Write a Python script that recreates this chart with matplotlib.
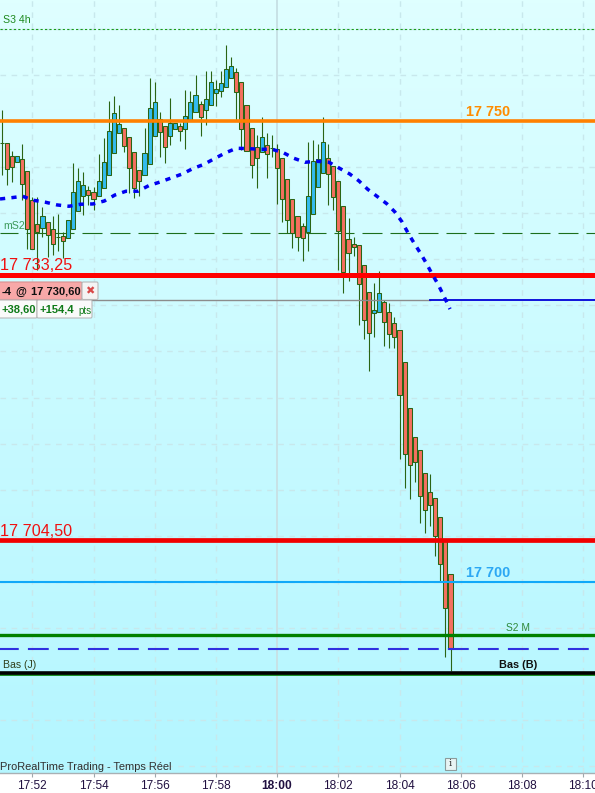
import numpy as np
import matplotlib
matplotlib.use("Agg")
import matplotlib.pyplot as plt
from matplotlib.patches import Rectangle, FancyBboxPatch

plt.rcParams['font.family'] = ['Liberation Sans', 'DejaVu Sans']

W, H = 595, 793
PRICE_BASE = 17700  # values below are points above this base

open_ = [47.65,47.65,46.20,45.55,45.88,44.58,41.43,38.83,38.39,39.05,
         38.29,37.42,37.53,37.31,38.29,40.24,41.87,42.52,42.30,41.87,
         42.73,44.14,46.53,48.70,49.24,48.26,46.64,44.69,44.14,45.34,
         48.37,50.22,49.46,48.37,49.13,49.46,49.13,50.11,50.98,51.84,
         51.19,51.74,53.04,53.25,53.69,54.66,55.31,54.23,51.74,49.24,
         47.18,46.64,47.40,47.07,46.96,45.99,43.71,41.54,39.70,38.61,
         37.96,39.91,42.84,44.36,45.99,45.12,43.49,40.78,37.20,36.66,
         36.55,34.38,31.45,29.18,29.28,30.37,29.28,28.09,27.33,23.86,
         18.87,15.73,14.32,11.82,9.76,9.11,7.05,4.45,0.87]
close = [47.65,44.79,45.01,46.20,43.17,38.29,36.12,37.96,39.70,37.64,
         36.66,37.42,36.98,39.26,42.30,43.49,43.06,41.97,41.54,43.49,
         45.55,48.92,50.87,49.67,47.29,44.90,42.73,43.49,46.53,51.41,
         52.06,48.81,47.18,49.78,49.78,48.92,50.54,52.06,52.82,50.43,
         52.39,54.23,53.47,54.12,55.64,55.97,53.15,49.13,46.75,45.23,
         45.99,48.26,46.42,47.07,44.90,41.54,39.26,37.85,37.42,37.31,
         41.87,45.66,45.88,47.72,44.25,41.76,38.07,33.62,35.68,36.33,
         32.32,28.42,27.01,29.50,31.34,28.20,26.90,26.57,20.28,13.88,
         12.69,13.02,9.33,7.81,8.35,4.99,1.95,-2.82,-7.27]
high = [51.19,47.65,46.75,46.20,47.51,44.58,41.76,41.76,40.67,39.05,
        39.70,39.91,37.96,39.26,45.44,44.90,44.47,42.95,42.84,46.42,
        48.16,52.17,52.71,51.74,49.24,48.26,46.64,44.69,49.24,54.66,
        54.23,50.98,49.46,52.49,49.78,49.78,53.36,53.25,54.99,52.17,
        55.42,55.42,54.45,55.42,58.24,56.94,55.75,54.23,51.74,49.24,
        48.48,50.43,48.70,48.48,47.51,45.99,43.71,41.54,39.70,38.94,
        47.72,47.94,47.51,50.43,47.51,45.12,43.49,40.78,39.48,37.42,
        36.55,34.38,31.45,32.43,33.73,30.59,30.26,28.74,27.33,23.86,
        18.87,15.73,14.32,11.82,11.71,9.11,7.05,4.45,0.87]
low = [44.14,43.06,43.38,45.55,41.43,36.12,36.12,33.84,37.42,35.25,
       35.47,35.90,35.14,37.31,38.29,40.24,39.80,40.89,40.35,41.87,
       42.73,44.14,46.53,48.70,46.64,42.19,41.65,41.87,44.14,45.34,
       48.37,46.10,45.44,47.40,49.13,47.83,46.96,50.11,50.98,48.37,
       49.57,51.74,51.63,52.60,53.69,54.66,50.11,46.85,46.75,43.82,
       42.73,46.64,43.82,46.10,41.00,39.05,37.85,36.23,35.90,34.82,
       35.90,39.91,42.84,44.36,40.89,40.35,33.84,31.34,32.65,35.36,
       27.87,26.36,22.89,26.57,29.28,25.60,25.38,25.38,13.34,10.19,
       9.00,10.85,6.40,5.31,6.07,2.82,0.11,-8.13,-9.65]

ma_bar = [-0.33,1.96,4.12,6.2,8.63,10.9,13.2,15.49,17.9,20.12,22.2,24.37,26.7,
          28.82,31.04,33.25,35.41,37.45,39.67,41.69,43.84,46,48.29,50.65,53,
          55.22,57.31,59.47,61.82,64.18,66.14,68.24,70.06,71.76,73.58,75.49,
          77.1,78.5,79.67,80.84,82.08,83.25,84.31,85.55,86.59,87.9]
ma_val = [41.54,41.68,41.83,41.40,41.18,40.89,40.75,40.97,41.00,41.32,41.97,42.38,
          42.38,42.98,43.38,43.82,44.25,44.83,45.30,45.91,46.53,47.04,47.00,46.93,
          46.93,46.56,45.95,45.52,45.63,45.52,44.90,44.25,43.49,42.59,41.83,41.03,
          40.13,39.05,37.85,36.77,35.68,34.57,33.48,32.29,31.13,29.60]

tick_bars = [6, 18, 30, 42, 54, 66, 78, 90, 102, 114]
tick_labels = ['17:52','17:54','17:56','17:58','18:00','18:02','18:04','18:06','18:08','18:10']

LEVEL_S3 = 17759.98
LEVEL_ORANGE = 17750.0
LEVEL_MS2 = 17737.82
LEVEL_RED_HIGH = 17733.25
LEVEL_POSITION = 17730.60
LEVEL_RED_LOW = 17704.50
LEVEL_LIGHT = 17700.0
LEVEL_S2M = 17694.22
LEVEL_DASH_BLUE = 17692.77
LEVEL_LOW = 17690.13

def base(vals):
    return np.asarray(vals, dtype=float) + PRICE_BASE

o, c, hi, lo = base(open_), base(close), base(high), base(low)
bars = np.arange(len(o))

fig = plt.figure(figsize=(W/100, H/100), dpi=100, facecolor='white')
AX_BOTTOM = 773
ax = fig.add_axes([0, 1 - AX_BOTTOM/H, 1, AX_BOTTOM/H])

grad = np.linspace(0, 1, 256).reshape(-1, 1)
top = np.array([0xDF, 0xFF, 0xFF]) / 255
bot = np.array([0xB4, 0xF6, 0xFF]) / 255
img = top[None, None, :] * (1 - grad[..., None]) + bot[None, None, :] * grad[..., None]
ax.imshow(img, extent=(0, 1, 0, 1), transform=ax.transAxes, aspect='auto', zorder=0)
ax.set_xlim(-0.333, 116.33)
ax.set_ylim(17679.28, 17763.12)

GRID = '#C8E8EC'
for p in np.arange(17680, 17765, 5):
    ax.axhline(p, color=GRID, lw=1.0, ls=(0, (4, 4)), zorder=1)
for b, lab in zip(tick_bars, tick_labels):
    if lab == '18:00':
        ax.axvline(b, color='#C8E2E6', lw=1.4, zorder=1)
    else:
        ax.axvline(b, color=GRID, lw=1.0, ls=(0, (4, 4)), zorder=1)

ax.axhline(LEVEL_S3, color='#1A9A1A', lw=0.8, ls=(0, (2, 2)), zorder=2)
ax.axhline(LEVEL_MS2, color='#1C6E1C', lw=0.8, ls=(1.8, (18, 7.2)), zorder=2)

EDGE = '#2A6414'
ax.vlines(bars, lo, hi, color=EDGE, lw=0.8, zorder=3)
colors = ['#33BBEE' if cc > oo else '#F4705F' for oo, cc in zip(o, c)]
ax.bar(bars, np.abs(c - o), bottom=np.minimum(o, c), width=0.8, color=colors,
       edgecolor=EDGE, linewidth=0.75, zorder=4)

ax.plot(ma_bar, base(ma_val), color='#0000F0', lw=2.5, ls=(0, (1.5, 1.8)), zorder=6)

ax.axhline(LEVEL_ORANGE, color='#FF8000', lw=2.6, zorder=5)
ax.axhline(LEVEL_RED_HIGH, color='#FF0000', lw=3.6, zorder=5)
ax.axhline(LEVEL_RED_LOW, color='#F00000', lw=3.4, zorder=5)
ax.axhline(LEVEL_POSITION, xmax=430/W, color='#8C8C8C', lw=1.0, zorder=5)
ax.axhline(LEVEL_POSITION, xmin=430/W, color='#0000D8', lw=1.3, zorder=5)
ax.axhline(LEVEL_LIGHT, color='#10A8F8', lw=1.5, zorder=5)
ax.axhline(LEVEL_S2M, color='#008000', lw=2.4, zorder=5)
ax.axhline(LEVEL_DASH_BLUE, color='#3030E0', lw=1.5, ls=(1.0, (10, 4.4)), zorder=5)
ax.axhline(LEVEL_LOW - 0.17, color='#008000', lw=1.2, zorder=5)
ax.axhline(LEVEL_LOW, color='#000000', lw=2.6, zorder=5)

ax.set_xticks(tick_bars)
ax.set_xticklabels(tick_labels, fontsize=8.6, color='#201040')
ax.get_xticklabels()[4].set_fontweight('bold')
ax.tick_params(axis='x', length=3, width=0.8, color='#A0A8AC', pad=2, direction='out')
ax.set_yticks([])
for s in ['top', 'left', 'right']:
    ax.spines[s].set_visible(False)
ax.spines['bottom'].set_color('#A8B0B4')
ax.spines['bottom'].set_linewidth(1.0)

def T(x, y, s, **kw):
    kw.setdefault('va', 'center')
    fig.text(x/W, 1 - y/H, s, zorder=10, **kw)

T(3, 20, 'S3 4h', fontsize=7.6, color='#1E8A1E')
T(3, 226, 'mS2', fontsize=7.6, color='#3C9A5A')
T(466, 112, '17 750', fontsize=10.4, fontweight='bold', color='#FF8C00')
T(466, 573, '17 700', fontsize=10.4, fontweight='bold', color='#2CA8F4')
T(0, 266, '17 733,25', fontsize=11.6, color='#F01010')
T(0, 531, '17 704,50', fontsize=11.6, color='#F01010')
T(506, 628, 'S2 M', fontsize=7.4, color='#2E8B3C')
T(3, 665, 'Bas (J)', fontsize=7.6, color='#30401C')
T(499, 665, 'Bas (B)', fontsize=7.8, fontweight='bold', color='#101010')
T(0, 767, 'ProRealTime Trading - Temps Réel', fontsize=7.9, color='#303030')

def box(x0, y0, x1, y1, fc, ec):
    fig.add_artist(FancyBboxPatch((x0/W, 1 - y1/H), (x1-x0)/W, (y1-y0)/H,
                                  boxstyle='round,pad=0,rounding_size=0.002',
                                  transform=fig.transFigure, fc=fc, ec=ec, lw=0.8, zorder=9))
box(-2, 282, 82, 299.5, '#F8A8A8', '#D89090')
box(82, 282, 98, 299.5, '#F4F4F4', '#B8B8B8')
box(-2, 300, 37, 318, '#FAFAFA', '#B8B8B8')
box(37, 300, 92, 318, '#FAFAFA', '#B8B8B8')
T(2, 292, '-4', fontsize=8, fontweight='bold', color='#101010')
T(15, 292, '@', fontsize=8, fontweight='bold', color='#101010')
T(31, 292, '17 730,60', fontsize=8, fontweight='bold', color='#101010')
T(90, 291, '✖', fontsize=8, color='#D84848', ha='center', family=['DejaVu Sans'])
T(1, 310, '+38,60', fontsize=8, fontweight='bold', color='#0E7A18')
T(40, 310, '+154,4', fontsize=8, fontweight='bold', color='#0E7A18')
T(78, 311, 'pts', fontsize=7, color='#0E7A18')

fig.add_artist(Rectangle((445/W, 1 - 770/H), 11/W, 12/H, transform=fig.transFigure,
                         fc='#E8F4F4', ec='#8C9C9C', lw=0.8, zorder=9))
T(450.5, 764, 'i', fontsize=7, ha='center', color='#303030', family=['DejaVu Serif'])

fig.savefig('out.png', dpi=100, facecolor='white')
